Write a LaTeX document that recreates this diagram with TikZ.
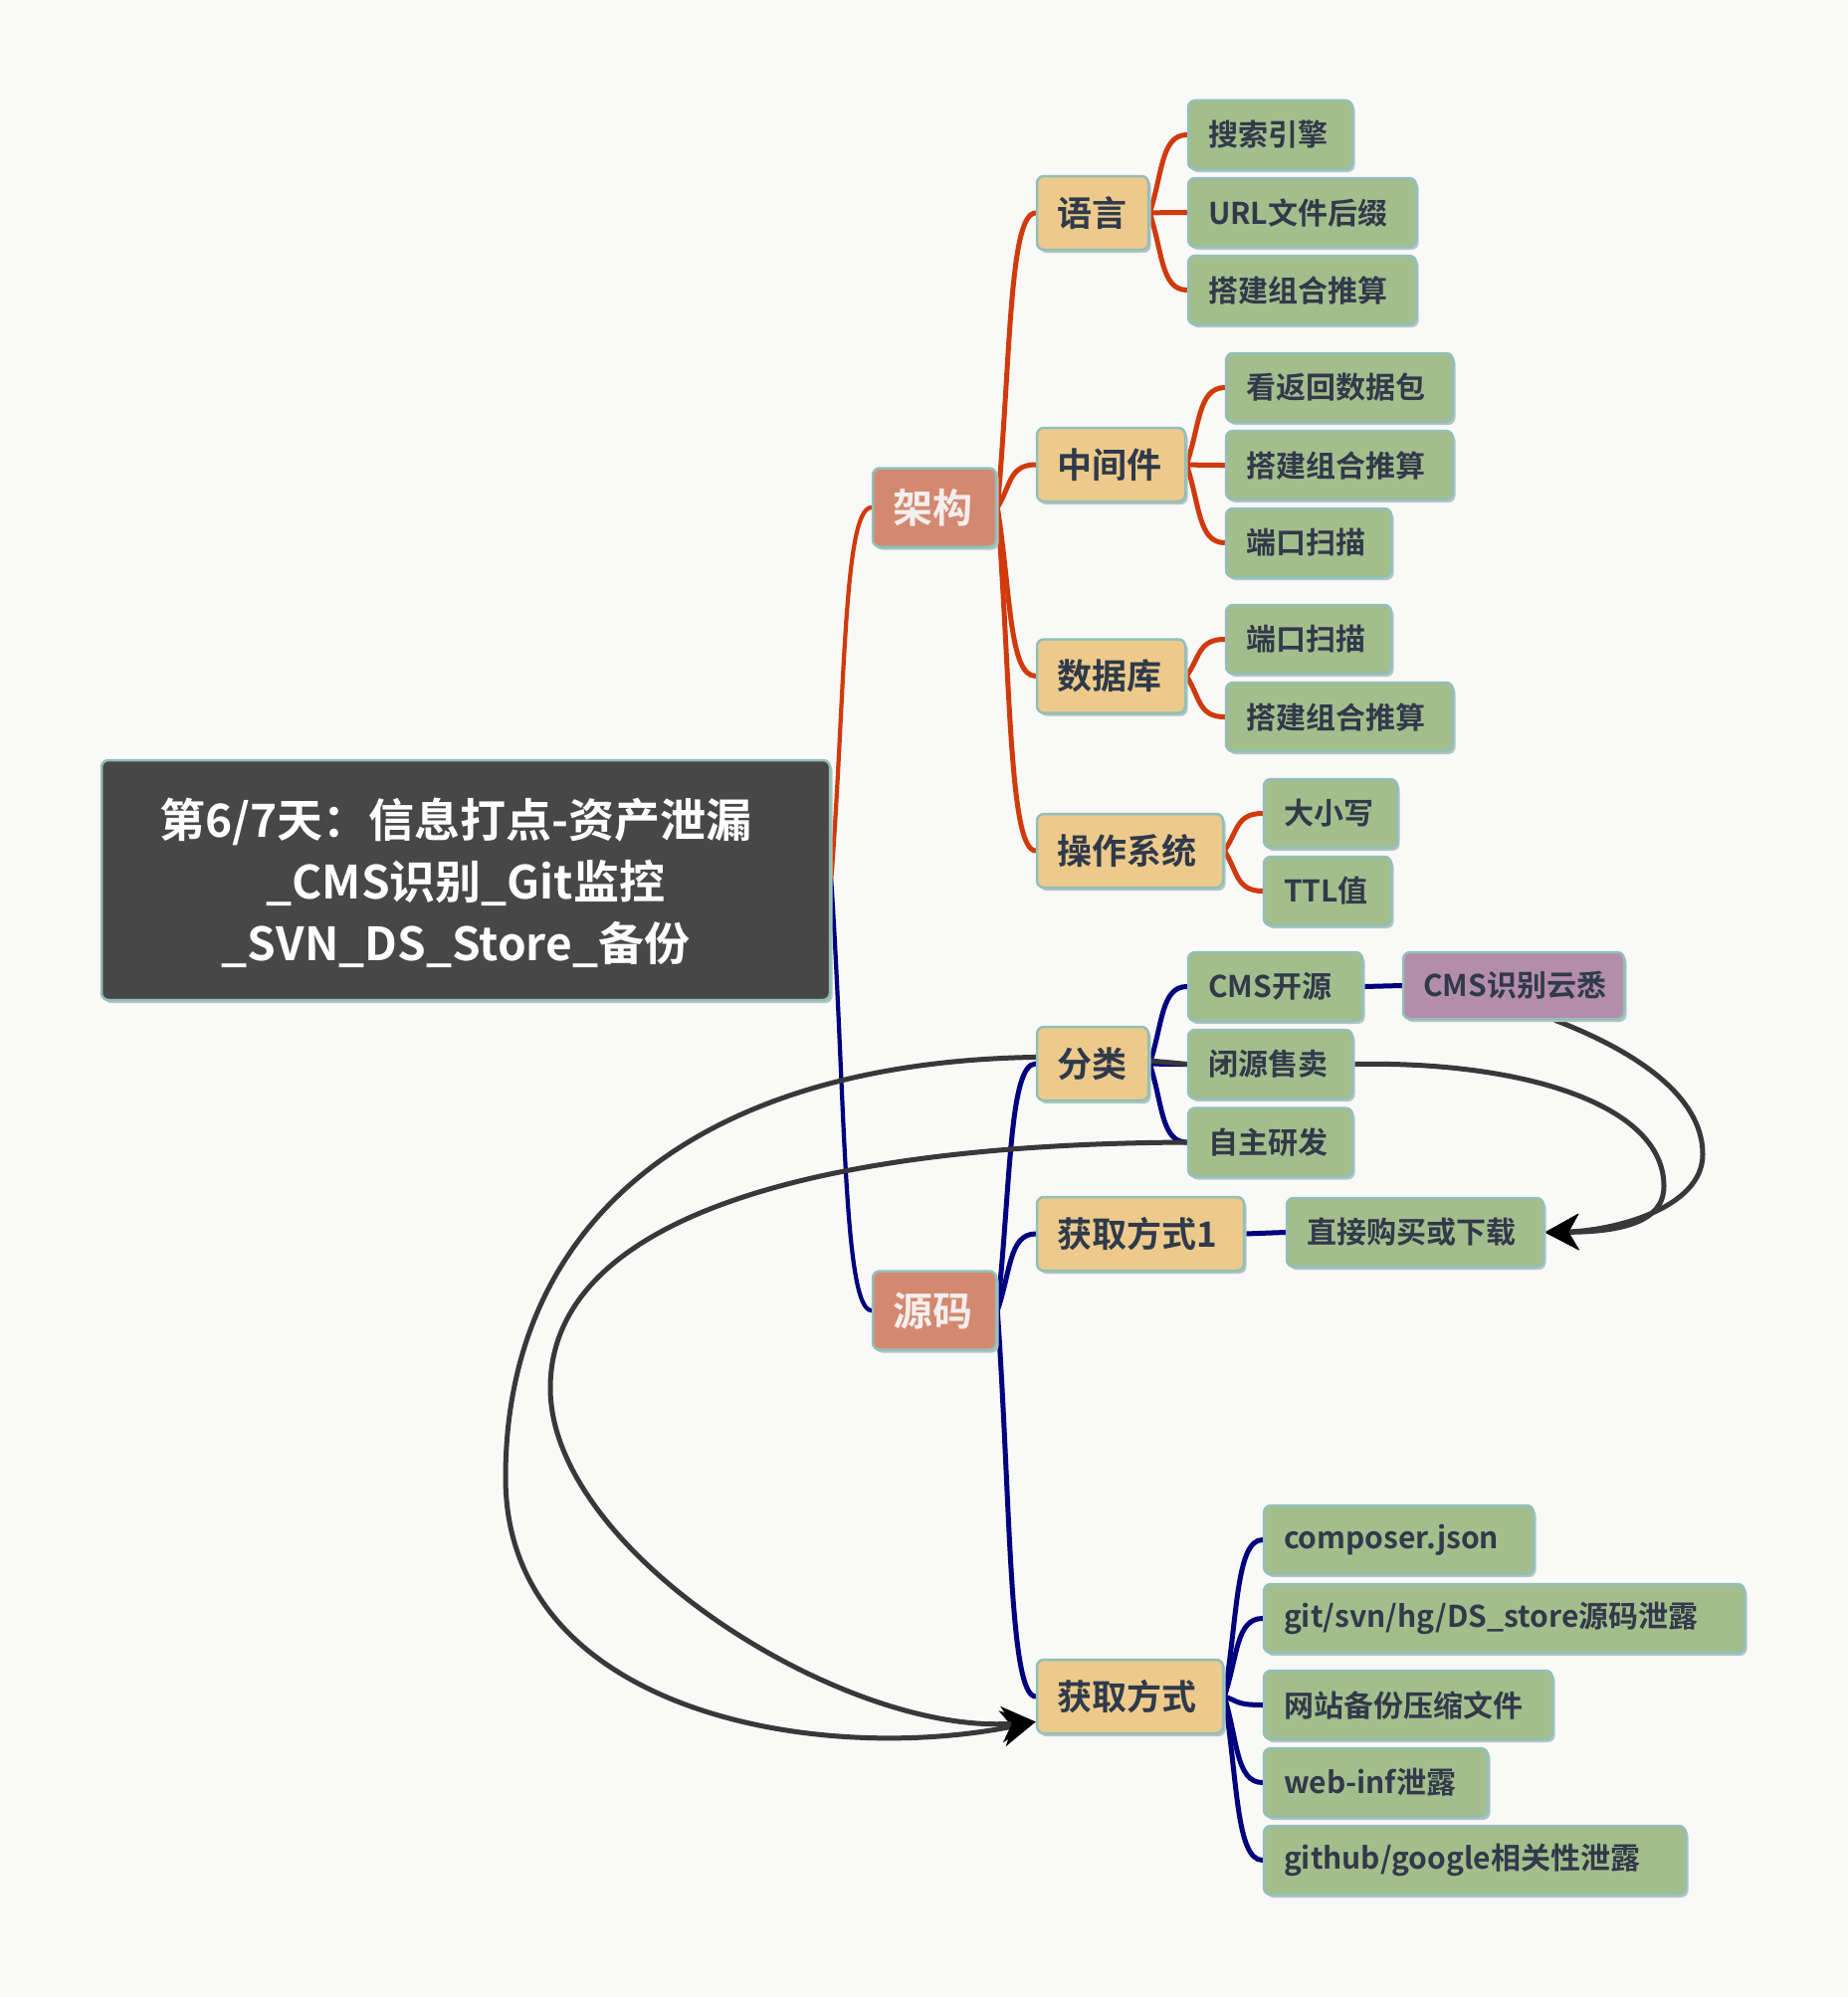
\documentclass[tikz,border=0pt]{standalone}
\usepackage{fontspec}
\setmainfont{Noto Sans CJK SC}[BoldFont={* Bold}]
\usetikzlibrary{arrows.meta,shadows,calc}
\definecolor{bgc}{HTML}{F9F9F7}
\definecolor{rootc}{HTML}{474747}
\definecolor{salmon}{HTML}{D38870}
\definecolor{tanc}{HTML}{EDCA8B}
\definecolor{leafc}{HTML}{A3BE8C}
\definecolor{purpc}{HTML}{B48DAB}
\definecolor{bordc}{HTML}{92BFB9}
\definecolor{shadc}{HTML}{B3C6C1}
\definecolor{darktext}{HTML}{2F3A4A}
\definecolor{lighttext}{HTML}{F4EEEC}
\definecolor{orangec}{HTML}{D03A0C}
\definecolor{navyc}{HTML}{00007F}
\definecolor{relc}{HTML}{383838}
\pgfdeclarelayer{bgfill}
\pgfdeclarelayer{lines}
\pgfsetlayers{bgfill,lines,main}
\tikzset{
  basebox/.style={rounded corners=7pt, draw=bordc, line width=2.5pt, inner ysep=0pt,
    inner xsep=20pt, align=left,
    drop shadow={shadow xshift=2.5pt, shadow yshift=-3pt, fill=shadc, opacity=1}},
  rootbox/.style={basebox, inner xsep=0pt, fill=rootc, text=white, align=center,
    font=\bfseries\fontsize{46}{62}\selectfont},
  lvone/.style={basebox, fill=salmon, text=lighttext, minimum height=79pt,
    font=\bfseries\fontsize{40}{48}\selectfont},
  lvtwo/.style={basebox, fill=tanc, text=darktext, minimum height=74pt,
    font=\bfseries\fontsize{35}{42}\selectfont},
  leaf/.style={basebox, fill=leafc, text=darktext, minimum height=69pt,
    font=\bfseries\fontsize{30}{36}\selectfont},
  purpleaf/.style={leaf, fill=purpc, minimum height=67pt},
  curvy/.style={to path={let \p1=(\tikztostart), \p2=(\tikztotarget) in
      .. controls ({\x1+0.35*(\x2-\x1)},{\y1+0.5*(\y2-\y1)})
         and ({\x1+0.3*(\x2-\x1)},\y2) .. (\tikztotarget)}},
  orangeline/.style={draw=orangec, line width=5pt, line cap=round},
  navyline/.style={draw=navyc, line width=5pt, line cap=round},
  rootline/.style={line width=4.2pt},
  relline/.style={draw=relc, line width=5pt,
    -{Stealth[length=34pt,width=36pt,inset=10pt,fill=black,color=black]}},
}
\begin{document}
\begin{tikzpicture}[x=1pt,y=-1pt]
\useasboundingbox (0,0) rectangle (1857,2007);
\begin{pgfonlayer}{bgfill}
\fill[bgc] (0,0) rectangle (1857,2007);
\end{pgfonlayer}

% root
\node[rootbox, minimum width=732pt, minimum height=241pt] (root) at (468,884.5)
  {\rule{0pt}{45pt}第6/7天：信息打点-资产泄漏\hspace*{20pt}\\\_CMS识别\_Git监控\hspace*{20pt}\\\_SVN\_DS\_Store\_备份\hspace*{20pt}};

% level 1
\node[lvone, text width=84pt] (jg) at (939,510) {架构};
\node[lvone, text width=84pt] (ym) at (939,1317) {源码};

% level 2
\node[lvtwo, text width=72pt] (yy) at (1098,214) {语言};
\node[lvtwo, text width=109pt] (zjj) at (1116.5,467) {中间件};
\node[lvtwo, text width=109pt] (sjk) at (1116.5,679.5) {数据库};
\node[lvtwo, text width=147pt] (czxt) at (1135.5,855) {操作系统};
\node[lvtwo, text width=72pt] (fl) at (1098,1069) {分类};
\node[lvtwo, text width=168pt] (hq1) at (1146,1240) {获取方式1};
\node[lvtwo, text width=147pt] (hqfs) at (1135.5,1705) {获取方式};

% leaves
\node[leaf, text width=125pt] (l1) at (1276.5,135.5) {搜索引擎};
\node[leaf, text width=189pt] (l2) at (1308.5,213.5) {URL文件后缀};
\node[leaf, text width=189pt] (l3) at (1308.5,291.5) {搭建组合推算};
\node[leaf, text width=188pt] (m1) at (1346,389.5) {看返回数据包};
\node[leaf, text width=188pt] (m2) at (1346,467.5) {搭建组合推算};
\node[leaf, text width=126pt] (m3) at (1315,545.5) {端口扫描};
\node[leaf, text width=126pt] (d1) at (1315,642.5) {端口扫描};
\node[leaf, text width=188pt] (d2) at (1346,720.5) {搭建组合推算};
\node[leaf, text width=94pt] (o1) at (1337,817.5) {大小写};
\node[leaf, text width=88pt] (o2) at (1334,895.5) {TTL值};
\node[leaf, text width=135pt] (c1) at (1281.5,991.5) {CMS开源};
\node[purpleaf, text width=182pt] (cyx) at (1521,990.5) {CMS识别云悉};
\node[leaf, text width=125pt] (c2) at (1276.5,1069.5) {闭源售卖};
\node[leaf, text width=125pt] (c3) at (1276.5,1148) {自主研发};
\node[leaf, text width=218pt] (zj) at (1422,1238.5) {直接购买或下载};
\node[leaf, text width=231pt] (g1) at (1405.5,1547.5) {composer.json};
\node[leaf, text width=443pt] (g2) at (1511.5,1626.5) {git/svn/hg/DS\_store源码泄露};
\node[leaf, text width=250pt] (g3) at (1415,1713.5) {网站备份压缩文件};
\node[leaf, text width=185pt] (g4) at (1382.5,1791.5) {web-inf泄露};
\node[leaf, text width=384pt] (g5) at (1482,1869.5) {github/google相关性泄露};

\begin{pgfonlayer}{lines}
% tree connectors
\draw[orangeline, rootline] (root.east) to[curvy] (jg.west);
\draw[navyline, rootline] (root.east) to[curvy] (ym.west);
\foreach \c in {yy,zjj,sjk,czxt} \draw[orangeline] (jg.east) to[curvy] (\c.west);
\foreach \c in {l1,l2,l3} \draw[orangeline] (yy.east) to[curvy] (\c.west);
\foreach \c in {m1,m2,m3} \draw[orangeline] (zjj.east) to[curvy] (\c.west);
\foreach \c in {d1,d2} \draw[orangeline] (sjk.east) to[curvy] (\c.west);
\foreach \c in {o1,o2} \draw[orangeline] (czxt.east) to[curvy] (\c.west);
\foreach \c in {fl,hq1,hqfs} \draw[navyline] (ym.east) to[curvy] (\c.west);
\foreach \c in {c1,c2,c3} \draw[navyline] (fl.east) to[curvy] (\c.west);
\draw[navyline] (hq1.east) -- (zj.west);
\draw[navyline] (c1.east) -- (cyx.west);
\foreach \c in {g1,g2,g3,g4,g5} \draw[navyline] (hqfs.east) to[curvy] (\c.west);
% relationships
\draw[relline] (c2.east) .. controls (1530,1066) and (1672,1110) .. (1672,1192)
   .. controls (1672,1228) and (1630,1238) .. (zj.east);
\draw[relline] (cyx.-40) .. controls (1640,1055) and (1711,1100) .. (1711,1160)
   .. controls (1711,1215) and (1620,1237) .. (zj.east);
\draw[relline] (c2.west) .. controls (760,1025) and (508,1190) .. (508,1485)
   .. controls (508,1720) and (820,1775) .. (hqfs.195);
\draw[relline] (c3.west) .. controls (800,1150) and (553,1230) .. (553,1395)
   .. controls (553,1560) and (850,1745) .. (hqfs.195);
\end{pgfonlayer}
\end{tikzpicture}
\end{document}
